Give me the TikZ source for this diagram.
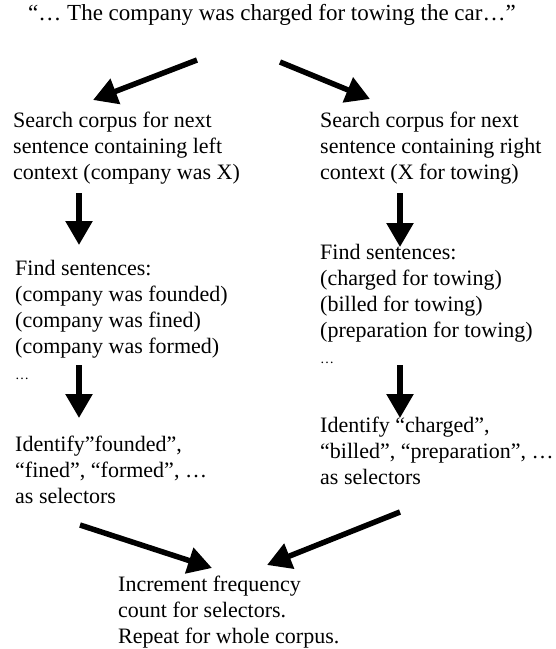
\documentclass[tikz,border=0pt]{standalone}
\usepackage{fontspec}
\setmainfont{Liberation Serif}
\usepackage{tikz}
\usetikzlibrary{arrows.meta}

\begin{document}
\begin{tikzpicture}[x=1pt,y=-1pt,
    txt/.style={anchor=north west, align=left, inner sep=0pt,
      font=\fontsize{22}{26}\selectfont},
    bigarrow/.style={line width=5.5pt,
      -{Triangle[length=24pt,width=26pt]}}]
  \useasboundingbox (0,0) rectangle (556,649);
  \newcommand{\smalldots}{{\fontsize{14}{26}\selectfont …}}
  % the sentence
  \node[inner sep=0pt, font=\fontsize{23}{26}\selectfont] (quote) at (272,15)
    {“… The company was charged for towing the car…”};
  % left column
  \node[txt] (searchL) at (13,112)
    {Search corpus for next\\ sentence containing left\\ context (company was X)};
  \node[txt] (findL) at (15,260)
    {Find sentences:\\ (company was founded)\\ (company was fined)\\
     (company was formed)\\ \smalldots};
  \node[txt] (identL) at (15,436)
    {Identify”founded”,\\ “fined”, “formed”, …\\ as selectors};
  % right column
  \node[txt] (searchR) at (320,112)
    {Search corpus for next\\ sentence containing right\\ context (X for towing)};
  \node[txt] (findR) at (320,244)
    {Find sentences:\\ (charged for towing)\\ (billed for towing)\\
     (preparation for towing)\\ \smalldots};
  \node[txt] (identR) at (320,417)
    {Identify “charged”,\\ “billed”, “preparation”, …\\ as selectors};
  % result
  \node[txt] (incr) at (118,576)
    {Increment frequency\\ count for selectors.\\ Repeat for whole corpus.};
  % arrow ends
  \coordinate (qL0) at (197,60);  \coordinate (qL1) at (93,100);
  \coordinate (qR0) at (280,62);  \coordinate (qR1) at (370,99);
  \coordinate (dL0) at (79,193);  \coordinate (dL1) at (79,245);
  \coordinate (dR0) at (400,193); \coordinate (dR1) at (400,247);
  \coordinate (eL0) at (79,365);  \coordinate (eL1) at (79,418);
  \coordinate (eR0) at (400,365); \coordinate (eR1) at (400,418);
  \coordinate (bL0) at (80,525);  \coordinate (bL1) at (212,568);
  \coordinate (bR0) at (400,512); \coordinate (bR1) at (267,565);
  \draw[bigarrow] (qL0) -- (qL1);
  \draw[bigarrow] (qR0) -- (qR1);
  \draw[bigarrow] (dL0) -- (dL1);
  \draw[bigarrow] (dR0) -- (dR1);
  \draw[bigarrow] (eL0) -- (eL1);
  \draw[bigarrow] (eR0) -- (eR1);
  \draw[bigarrow] (bL0) -- (bL1);
  \draw[bigarrow] (bR0) -- (bR1);
\end{tikzpicture}
\end{document}
